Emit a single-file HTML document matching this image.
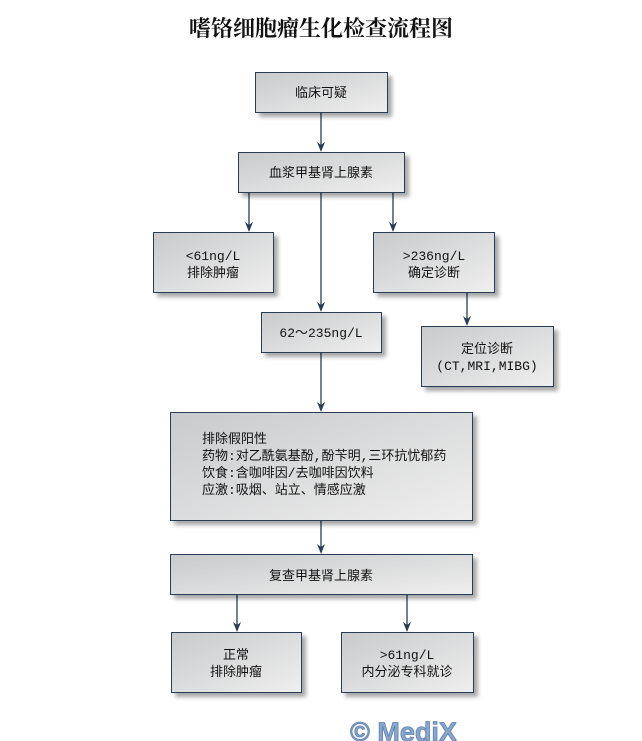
<!DOCTYPE html>
<html><head><meta charset="utf-8"><style>
html,body{margin:0;padding:0;background:#fff;width:642px;height:741px;overflow:hidden}
svg text{font-family:"Liberation Mono","Noto Sans CJK SC",monospace;font-size:13px;fill:#111}
</style></head><body>
<svg width="642" height="741" viewBox="0 0 642 741" xmlns="http://www.w3.org/2000/svg">
<defs>
<linearGradient id="g" x1="0" y1="0" x2="1" y2="1">
<stop offset="0" stop-color="#c9cacc"/><stop offset="1" stop-color="#efefef"/>
</linearGradient>
<filter id="s" x="-10%" y="-10%" width="130%" height="140%">
<feGaussianBlur in="SourceAlpha" stdDeviation="2"/><feOffset dx="4" dy="4"/>
<feComponentTransfer><feFuncA type="linear" slope="0.35"/></feComponentTransfer>
<feMerge><feMergeNode/><feMergeNode in="SourceGraphic"/></feMerge>
</filter>
</defs>
<text x="321" y="36" text-anchor="middle" style="font-family:'Liberation Serif','Noto Serif CJK SC',serif;font-size:22px;font-weight:bold">嗜铬细胞瘤生化检查流程图</text>
<g stroke="#2a3d55" stroke-width="1.3" fill="none">
<line x1="321" y1="112" x2="321" y2="145"/>
<line x1="249" y1="192" x2="249" y2="225"/>
<line x1="393" y1="192" x2="393" y2="225"/>
<line x1="321" y1="192" x2="321" y2="305"/>
<line x1="467" y1="292" x2="467" y2="319"/>
<line x1="321" y1="352" x2="321" y2="405"/>
<line x1="321" y1="520" x2="321" y2="547"/>
<line x1="237" y1="594" x2="237" y2="625"/>
<line x1="407" y1="594" x2="407" y2="625"/>
</g>
<g fill="#2a3d55">
<path d="M317,142 L321,145 L325,142 L321,152 Z"/>
<path d="M245,222 L249,225 L253,222 L249,232 Z"/>
<path d="M389,222 L393,225 L397,222 L393,232 Z"/>
<path d="M317,302 L321,305 L325,302 L321,312 Z"/>
<path d="M463,316 L467,319 L471,316 L467,326 Z"/>
<path d="M317,402 L321,405 L325,402 L321,412 Z"/>
<path d="M317,544 L321,547 L325,544 L321,554 Z"/>
<path d="M233,622 L237,625 L241,622 L237,632 Z"/>
<path d="M403,622 L407,625 L411,622 L407,632 Z"/>
</g>
<g fill="url(#g)" stroke="#2a3d55" stroke-width="1" filter="url(#s)">
<rect x="255.5" y="72.5" width="132" height="40"/>
<rect x="238.5" y="152.5" width="166" height="40"/>
<rect x="153.5" y="232.5" width="120" height="60"/>
<rect x="373.5" y="232.5" width="121" height="60"/>
<rect x="261.5" y="312.5" width="120" height="40"/>
<rect x="421.5" y="326.5" width="132" height="60"/>
<rect x="170.5" y="412.5" width="302" height="108"/>
<rect x="170.5" y="554.5" width="302" height="40"/>
<rect x="171.5" y="632.5" width="130" height="60"/>
<rect x="341.5" y="632.5" width="132" height="60"/>
</g>
<g text-anchor="middle">
<text x="321" y="97">临床可疑</text>
<text x="321" y="177">血浆甲基肾上腺素</text>
<text x="213" y="260">&lt;61ng/L</text><text x="213" y="277">排除肿瘤</text>
<text x="434" y="260">&gt;236ng/L</text><text x="434" y="277">确定诊断</text>
<text x="321" y="337">62～235ng/L</text>
<text x="487" y="353">定位诊断</text><text x="487" y="370">(CT,MRI,MIBG)</text>
<text x="321" y="580">复查甲基肾上腺素</text>
<text x="236" y="659">正常</text><text x="236" y="676">排除肿瘤</text>
<text x="407" y="659">&gt;61ng/L</text><text x="407" y="676">内分泌专科就诊</text>
</g>
<g>
<text x="202" y="443">排除假阳性</text>
<text x="202" y="460">药物:对乙酰氨基酚,酚苄明,三环抗忧郁药</text>
<text x="202" y="477">饮食:含咖啡因/去咖啡因饮料</text>
<text x="202" y="494">应激:吸烟、站立、情感应激</text>
</g>
<text x="350" y="741" style="font-family:'Liberation Sans',sans-serif;font-size:27px;font-weight:bold;fill:#8aa6cc;stroke:#5a7fb0;stroke-width:0.8">© MediX</text>
</svg>
</body></html>
